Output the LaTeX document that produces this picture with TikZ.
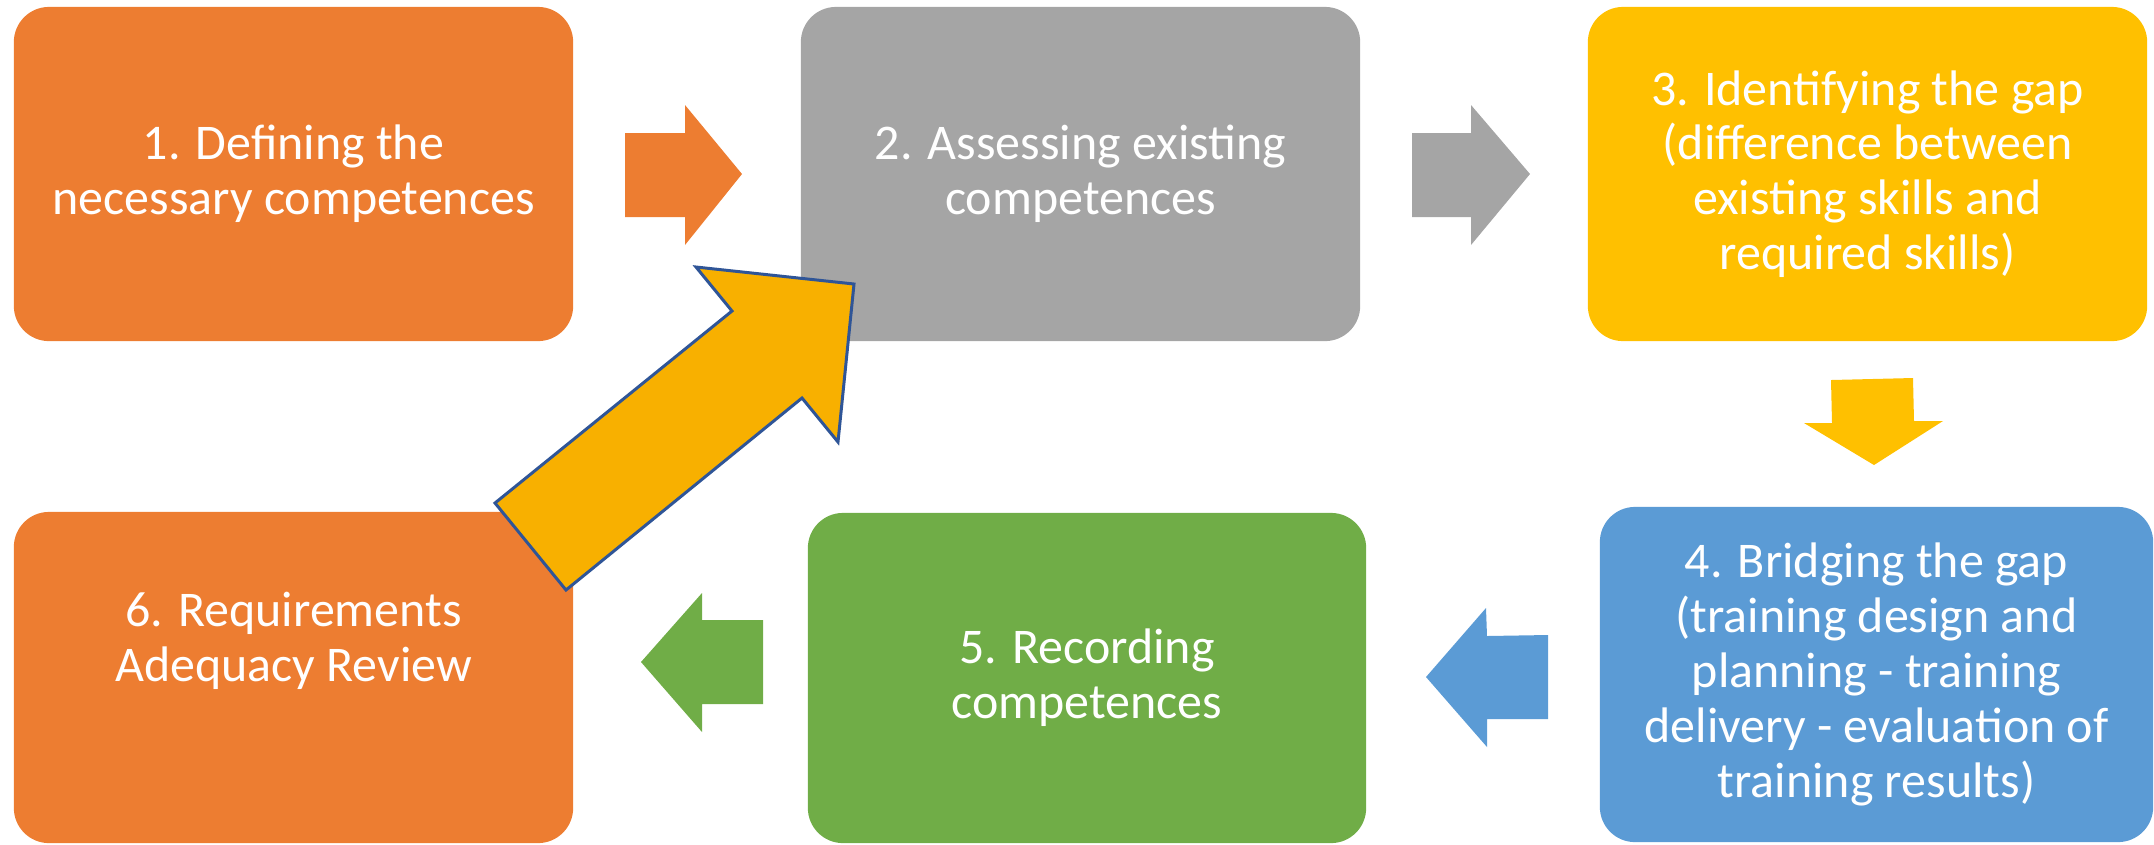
\documentclass[tikz,border=0pt]{standalone}
\usepackage{fontspec}
\setmainfont{Carlito}
\definecolor{cOrange}{HTML}{ED7D31}
\definecolor{cGray}{HTML}{A5A5A5}
\definecolor{cYellow}{HTML}{FFC000}
\definecolor{cBlue}{HTML}{5B9BD5}
\definecolor{cGreen}{HTML}{70AD47}
\definecolor{cBigFill}{HTML}{F8B000}
\definecolor{cBigLine}{HTML}{2F5597}
\begin{document}
\begin{tikzpicture}[x=0.01cm,y=-0.01cm,
  stepbox/.style={rounded corners=10pt, inner sep=0pt, outer sep=0pt,
    text=white, align=center,
    font=\fontsize{14.2}{15.6}\selectfont},
  lbl/.style={inner sep=0pt, text=white, align=center,
    font=\fontsize{14.2}{15.6}\selectfont},
  blockarrow/.style={draw=none},
  bigarrow/.style={fill=cBigFill, draw=cBigLine, line width=0.85pt, line join=miter}]
\useasboundingbox (0,0) rectangle (2154,844);

% boxes
\node[stepbox, fill=cOrange, minimum width=5.59cm, minimum height=3.34cm] (b1) at (293.5,174)
  {1. Defining the\\necessary competences};
\node[stepbox, fill=cGray, minimum width=5.59cm, minimum height=3.34cm] (b2) at (1080.5,174)
  {2. Assessing existing\\competences};
\node[stepbox, fill=cYellow, minimum width=5.59cm, minimum height=3.34cm] (b3) at (1867.5,174)
  {3. Identifying the gap\\(difference between\\existing skills and\\required skills)};
\node[stepbox, fill=cBlue, minimum width=5.53cm, minimum height=3.35cm] (b4) at (1876.5,674.5)
  {4. Bridging the gap\\(training design and\\planning - training\\delivery - evaluation of\\training results)};
\node[stepbox, fill=cGreen, minimum width=5.58cm, minimum height=3.30cm] (b5) at (1087,678)
  {5. Recording\\competences};
\node[stepbox, fill=cOrange, minimum width=5.59cm, minimum height=3.31cm] (b6) at (293.5,677.5) {};
\node[lbl] (t6) at ([yshift=0.37cm]b6.center) {6. Requirements\\Adequacy Review};

% arrow 1 -> 2 (orange)
\fill[blockarrow, cOrange] (625,133) -- (685,133) -- (685,105) -- (742,174)
  -- (685,245) -- (685,217) -- (625,217) -- cycle;
% arrow 2 -> 3 (gray)
\fill[blockarrow, cGray] (1412,133) -- (1471,133) -- (1471,105) -- (1530,174)
  -- (1471,245) -- (1471,217) -- (1412,217) -- cycle;
% arrow 3 -> 4 (yellow, down)
\fill[blockarrow, cYellow] (1831,380) -- (1913,378) -- (1914,421) -- (1943,421)
  -- (1874,465) -- (1804,423) -- (1832,423) -- cycle;
% arrow 4 -> 5 (blue, left)
\fill[blockarrow, cBlue] (1548,635) -- (1487,636) -- (1486,608) -- (1426,677)
  -- (1487,747) -- (1487,719) -- (1548,719) -- cycle;
% arrow 5 -> 6 (green, left)
\fill[blockarrow, cGreen] (763,620) -- (702,620) -- (702,593) -- (641,662)
  -- (702,732) -- (702,704) -- (763,704) -- cycle;
% big arrow 6 -> 2
\draw[bigarrow] (495,503) -- (566,590) -- (802,398) -- (838,442) -- (854,284)
  -- (696,267) -- (732,311) -- cycle;
\end{tikzpicture}
\end{document}
